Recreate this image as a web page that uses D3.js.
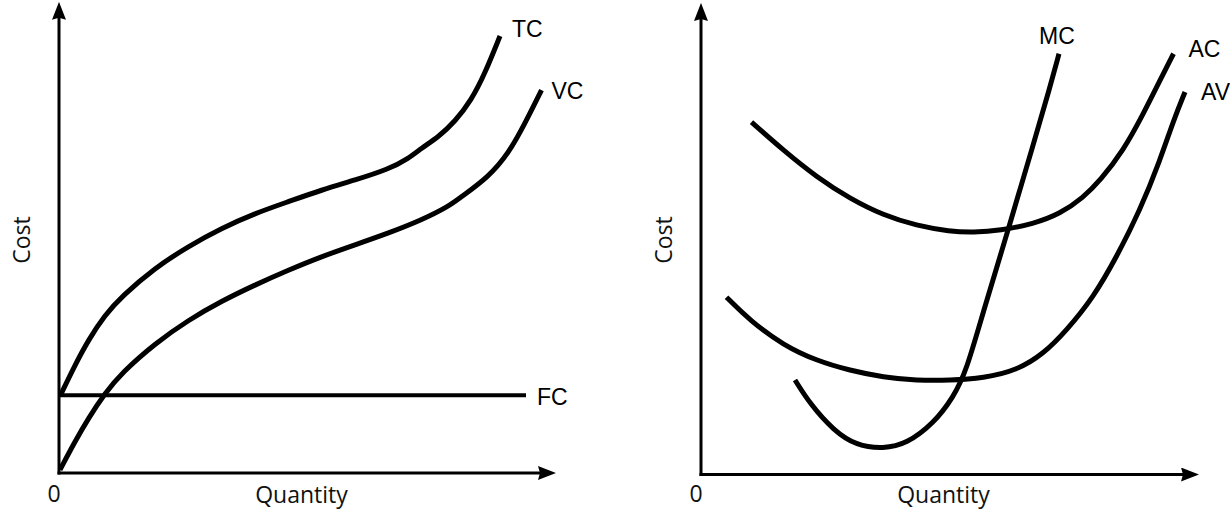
<!DOCTYPE html>
<html>
<head>
<meta charset="utf-8">
<script src="https://cdn.jsdelivr.net/npm/d3@7"></script>
<style>
  body { margin: 0; background: #fff; }
  svg { display: block; }
  .curve { fill: none; stroke: #000; stroke-linecap: butt; stroke-linejoin: round; }
  .axis-line { stroke: #000; stroke-width: 3; }
  .curve-label { font-family: 'Liberation Sans', Arial, sans-serif; font-size: 23px; fill: #000; }
  .axis-label { font-family: 'Open Sans', sans-serif; font-size: 23px; fill: #111; }
</style>
</head>
<body>
<svg width="1230" height="527"></svg>
<script>
// left panel: total, variable and fixed cost (quantity, cost)
const tcPoints = [[0.3, 17.3], [3.2, 24.0], [5.9, 29.6], [9.2, 35.1], [12.5, 39.2], [19.2, 45.6],
  [25.9, 50.4], [32.5, 54.4], [39.2, 57.7], [45.9, 60.3], [52.5, 62.9], [59.2, 65.1],
  [65.9, 67.5], [69.9, 69.9], [72.5, 72.2], [75.9, 74.7], [79.2, 78.1], [82.5, 82.9],
  [85.2, 88.8], [88.2, 97.1]];
const vcPoints = [[0.2, 0.7], [3.2, 7.0], [5.9, 12.2], [9.2, 17.7], [12.5, 22.2], [19.2, 28.8],
  [25.9, 34.0], [32.5, 38.2], [39.2, 41.8], [45.9, 45.1], [52.5, 48.1], [59.2, 50.7],
  [65.9, 53.3], [72.5, 56.2], [77.9, 59.2], [80.5, 61.4], [85.9, 65.8], [89.9, 71.0],
  [93.2, 77.7], [96.5, 85.1]];
const fcPoints = [[0.2, 17.3], [93.4, 17.3]];

// right panel: average, average variable and marginal cost
const acPoints = [[10.1, 78.3], [16.5, 72.0], [23.1, 66.1], [29.8, 61.3], [36.5, 57.6],
  [43.1, 55.3], [49.8, 54.0], [54.5, 53.8], [59.8, 54.2], [66.5, 55.7], [71.8, 57.9],
  [76.5, 61.6], [79.8, 65.3], [84.5, 72.0], [88.5, 80.2], [91.8, 87.6], [94.5, 93.5]];
const avcPoints = [[5.1, 39.4], [9.8, 34.2], [16.5, 28.7], [23.1, 25.3], [29.8, 23.1],
  [36.5, 21.6], [43.1, 20.9], [49.8, 20.9], [56.5, 21.4], [63.1, 23.1], [68.5, 26.8],
  [73.1, 32.0], [78.5, 39.4], [83.1, 48.3], [87.8, 58.7], [91.8, 69.8], [94.5, 78.7],
  [96.8, 85.0]];
const mcPoints = [[18.8, 21.0], [21.8, 15.7], [26.5, 9.8], [31.1, 6.4], [36.5, 5.7],
  [41.1, 6.8], [46.5, 11.3], [50.5, 17.2], [53.1, 23.1], [56.5, 36.4], [61.8, 55.7],
  [66.5, 73.5], [69.8, 86.1], [71.6, 93.5]];

const leftLabels = ['TC', 'VC', 'FC'];
const rightLabels = ['MC', 'AC', 'AV'];
const xTitle = 'Quantity';
const yTitle = 'Cost';
const originLabel = '0';

const svg = d3.select('svg');

svg.append('defs').append('marker')
    .attr('id', 'arrow')
    .attr('markerUnits', 'userSpaceOnUse')
    .attr('viewBox', '0 0 18 14')
    .attr('markerWidth', 18)
    .attr('markerHeight', 14)
    .attr('refX', 8)
    .attr('refY', 7)
    .attr('orient', 'auto')
  .append('path')
    .attr('d', 'M0,0 L18,7 L0,14 L2,7 Z')
    .attr('fill', '#000');

const panels = [
  {
    x: d3.scaleLinear().domain([0, 100]).range([59, 559]),
    y: d3.scaleLinear().domain([0, 100]).range([473, 23]),
    xEnd: 99.4, yEnd: 104.7,
    series: [
      { pts: tcPoints, label: leftLabels[0], dx: 12, dy: 1, anchor: 'start', width: 5 },
      { pts: vcPoints, label: leftLabels[1], dx: 10, dy: 9, anchor: 'start', width: 5 },
      { pts: fcPoints, label: leftLabels[2], dx: 11, dy: 10, anchor: 'start', width: 4 }
    ]
  },
  {
    x: d3.scaleLinear().domain([0, 100]).range([701, 1201]),
    y: d3.scaleLinear().domain([0, 100]).range([474.5, 24.5]),
    xEnd: 99.6, yEnd: 104.8,
    series: [
      { pts: mcPoints, label: rightLabels[0], dx: -2, dy: -10, anchor: 'middle', width: 5 },
      { pts: acPoints, label: rightLabels[1], dx: 15, dy: 3, anchor: 'start', width: 5 },
      { pts: avcPoints, label: rightLabels[2], dx: 16, dy: 8, anchor: 'start', width: 5 }
    ]
  }
];

panels.forEach(p => {
  const g = svg.append('g');
  const x0 = p.x(0), y0 = p.y(0);

  // axes with arrow heads (line stops short of the tip, marker reaches it)
  g.append('line')
      .attr('class', 'axis-line')
      .attr('x1', x0 - 1.5).attr('y1', y0)
      .attr('x2', p.x(p.xEnd) - 10).attr('y2', y0)
      .attr('marker-end', 'url(#arrow)');
  g.append('line')
      .attr('class', 'axis-line')
      .attr('x1', x0).attr('y1', y0 + 1.5)
      .attr('x2', x0).attr('y2', p.y(p.yEnd) + 10)
      .attr('marker-end', 'url(#arrow)');

  const line = d3.line()
      .x(d => p.x(d[0]))
      .y(d => p.y(d[1]))
      .curve(d3.curveBasis);

  p.series.forEach(s => {
    g.append('path')
        .attr('class', 'curve')
        .attr('stroke-width', s.width)
        .attr('d', line(s.pts));
    const last = s.pts[s.pts.length - 1];
    g.append('text')
        .attr('class', 'curve-label')
        .attr('x', p.x(last[0]) + s.dx)
        .attr('y', p.y(last[1]) + s.dy)
        .attr('text-anchor', s.anchor)
        .text(s.label);
  });

  g.append('text')
      .attr('class', 'axis-label')
      .attr('x', x0 - 5)
      .attr('y', 502)
      .attr('text-anchor', 'middle')
      .text(originLabel);

  g.append('text')
      .attr('class', 'axis-label')
      .attr('x', p.x(48.5))
      .attr('y', 503)
      .attr('text-anchor', 'middle')
      .text(xTitle);

  g.append('text')
      .attr('class', 'axis-label')
      .attr('transform', `translate(${x0 - 29},240) rotate(-90)`)
      .attr('text-anchor', 'middle')
      .text(yTitle);
});
</script>
</body>
</html>
